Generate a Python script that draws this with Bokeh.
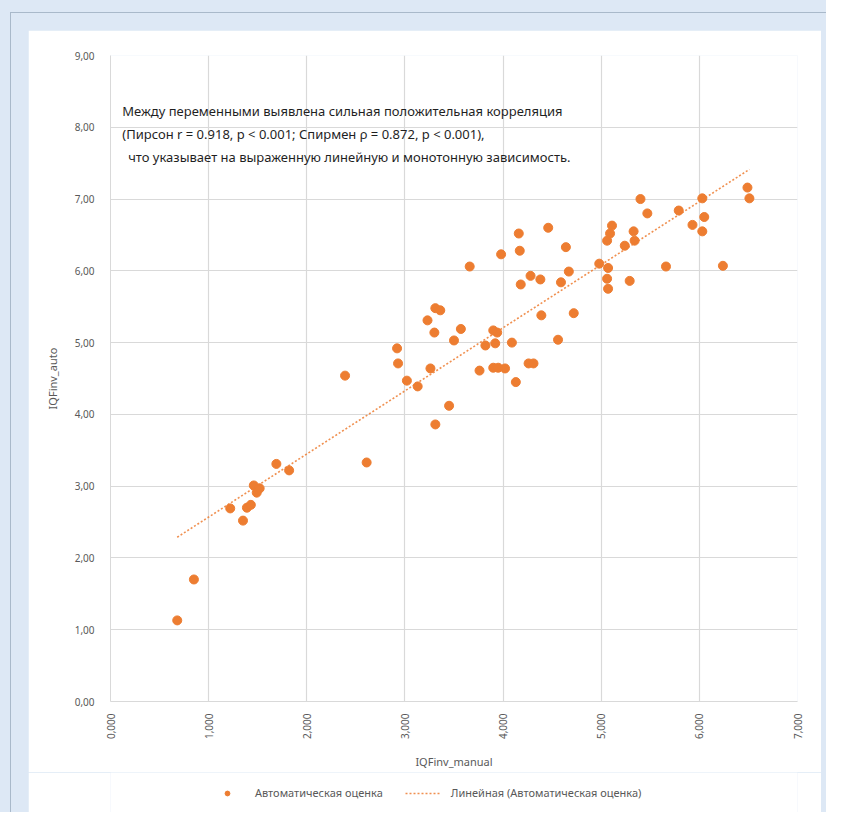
import numpy as np
from math import pi
from bokeh.plotting import figure
from bokeh.layouts import column
from bokeh.models import (Label, Legend, LegendItem,
                          CustomJSTickFormatter, FixedTicker, Range1d, ColumnDataSource)
from bokeh.embed import file_html
from bokeh.resources import INLINE

iqf_manual = [0.68, 0.85, 1.22, 1.35, 1.39, 1.43, 1.46, 1.49, 1.52, 1.69, 1.82,
              2.39, 2.61, 2.92, 2.93, 3.02, 3.13, 3.23, 3.26, 3.31, 3.30, 3.31,
              3.36, 3.45, 3.50, 3.57, 3.66, 3.76, 3.82, 3.90, 3.90, 3.92, 3.94,
              3.98, 3.95, 4.02, 4.09, 4.13, 4.16, 4.17, 4.18, 4.28, 4.26, 4.31,
              4.38, 4.39, 4.46, 4.56, 4.59, 4.64, 4.67, 4.72, 4.98, 5.06, 5.07,
              5.07, 5.06, 5.09, 5.11, 5.24, 5.29, 5.33, 5.34, 5.40, 5.47, 5.66,
              5.79, 5.93, 6.03, 6.03, 6.05, 6.24, 6.49, 6.51]
iqf_auto = [1.13, 1.70, 2.69, 2.52, 2.70, 2.74, 3.01, 2.91, 2.97, 3.31, 3.22,
            4.54, 3.33, 4.92, 4.71, 4.47, 4.39, 5.31, 4.64, 5.48, 5.14, 3.86,
            5.45, 4.12, 5.03, 5.19, 6.06, 4.61, 4.96, 5.17, 4.65, 4.99, 5.14,
            6.23, 4.65, 4.64, 5.00, 4.45, 6.52, 6.28, 5.81, 5.93, 4.71, 4.71,
            5.88, 5.38, 6.60, 5.04, 5.84, 6.33, 5.99, 5.41, 6.10, 5.89, 6.04,
            5.75, 6.42, 6.52, 6.63, 6.35, 5.86, 6.55, 6.42, 7.00, 6.80, 6.06,
            6.84, 6.64, 7.01, 6.55, 6.75, 6.07, 7.16, 7.01]

x_ticks = [0, 1, 2, 3, 4, 5, 6, 7]
y_ticks = [0, 1, 2, 3, 4, 5, 6, 7, 8, 9]

series_label = "Автоматическая оценка"
trend_label = "Линейная (Автоматическая оценка)"
note_lines = [
    "Между переменными выявлена сильная положительная корреляция",
    "(Пирсон r = 0.918, p < 0.001; Спирмен ρ = 0.872, p < 0.001),",
    "что указывает на выраженную линейную и монотонную зависимость.",
]

ORANGE = "#ED7D31"
GRAY = "#595959"
BLUE_BG = "#dde8f5"
FONT = "Noto Sans"

p = figure(frame_width=687, frame_height=646, output_backend="svg", toolbar_location=None,
           x_range=Range1d(0, 7), y_range=Range1d(0, 9),
           min_border_left=82, min_border_right=24, min_border_top=25, min_border_bottom=70)
p.border_fill_color = "white"
p.background_fill_color = "white"
p.outline_line_color = None

src = ColumnDataSource(dict(x=iqf_manual, y=iqf_auto))
sc = p.scatter("x", "y", source=src, size=9, fill_color=ORANGE, line_color=ORANGE)

xa = np.array(iqf_manual)
ya = np.array(iqf_auto)
k, b = np.polyfit(xa, ya, 1)
tx = [xa.min(), xa.max()]
ty = [k * t + b for t in tx]
ln = p.line(tx, ty, line_color=ORANGE, line_width=1.6, line_dash="2 2", line_alpha=0.85)

for ax in (p.xaxis[0], p.yaxis[0]):
    ax.axis_line_color = "#d9d9d9"
    ax.major_tick_line_color = None
    ax.minor_tick_line_color = None
    ax.major_label_text_color = GRAY
    ax.major_label_text_font = FONT
    ax.major_label_text_font_size = "10px"
    ax.axis_label_text_color = GRAY
    ax.axis_label_text_font = FONT
    ax.axis_label_text_font_size = "11px"
    ax.axis_label_text_font_style = "normal"

p.xaxis.ticker = FixedTicker(ticks=x_ticks)
p.yaxis.ticker = FixedTicker(ticks=y_ticks)
p.xaxis.formatter = CustomJSTickFormatter(code="return tick.toFixed(3).replace('.', ',');")
p.yaxis.formatter = CustomJSTickFormatter(code="return tick.toFixed(2).replace('.', ',');")
p.xaxis.major_label_orientation = pi / 2
p.xaxis.axis_label = "IQFinv_manual"
p.yaxis.axis_label = "IQFinv_auto"
p.xaxis.major_label_standoff = 6
p.xaxis.axis_label_standoff = 12
p.yaxis.major_label_standoff = 10
p.yaxis.axis_label_standoff = 12

p.xgrid.ticker = FixedTicker(ticks=x_ticks)
p.ygrid.ticker = FixedTicker(ticks=y_ticks)
p.grid.grid_line_color = "#d9d9d9"
p.grid.grid_line_width = 1.2

note_x = [0.12, 0.12, 0.18]
for i, t in enumerate(note_lines):
    p.add_layout(Label(x=note_x[i], y=8.22 - i * 0.315, text=t, text_font=FONT,
                       text_font_size="13px", text_color="#1f1f1f",
                       text_baseline="middle", text_align="left"))

# legend strip below the chart (renderers hold one point outside the visible range)
lg = figure(width=793, height=40, output_backend="svg", toolbar_location=None,
            x_range=Range1d(0, 1), y_range=Range1d(0, 1),
            x_axis_type=None, y_axis_type=None,
            min_border_left=0, min_border_right=0, min_border_top=0, min_border_bottom=0)
lg.border_fill_color = "white"
lg.background_fill_color = "white"
lg.outline_line_color = None
lg.grid.visible = False
lsc = lg.scatter(x=[-5], y=[-5], size=9, fill_color=ORANGE, line_color=ORANGE)
lln = lg.line(x=[-5, -4], y=[-5, -4], line_color=ORANGE, line_width=1.6,
              line_dash="2 2", line_alpha=0.85)

legend = Legend(items=[LegendItem(label=series_label, renderers=[lsc]),
                       LegendItem(label=trend_label, renderers=[lln])],
                orientation="horizontal", location=(99, 12), margin=0, padding=2,
                glyph_height=12, label_height=12, label_standoff=10,
                label_text_font=FONT, label_text_font_size="11px",
                label_text_color=GRAY, background_fill_alpha=0,
                border_line_color=None, spacing=22, glyph_width=36)
lg.add_layout(legend, "center")

inner = column(p, lg, styles={"background-color": BLUE_BG,
                              "border-top": "1px solid #a9b9ca",
                              "border-left": "1px solid #a9b9ca",
                              "padding": "17px 5px 0px 17px"})
outer = column(inner, styles={"background-color": BLUE_BG,
                              "padding": "12px 0px 0px 10px"})

open("out.html", "w").write(file_html(outer, INLINE))
